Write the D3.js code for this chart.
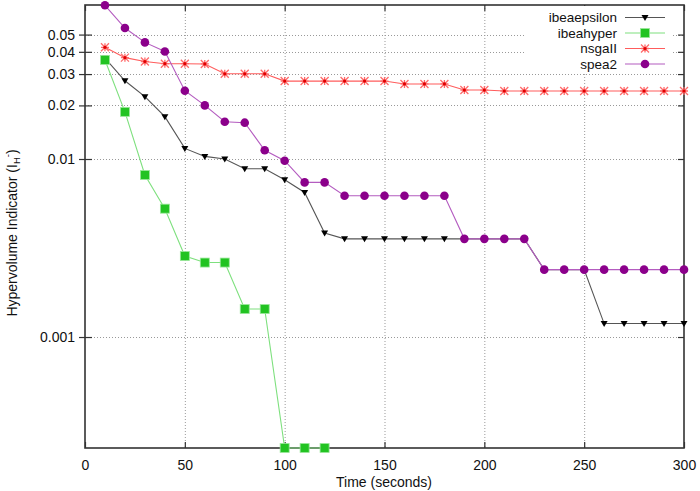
<!DOCTYPE html>
<html>
<head>
<meta charset="utf-8">
<script src="https://cdn.jsdelivr.net/npm/d3@7"></script>
<style>
  body { margin: 0; background: #fff; }
  svg { display: block; font-family: "Liberation Sans", Arial, sans-serif; }
</style>
</head>
<body>
<svg id="chart" width="700" height="491"></svg>
<script>
// ---- data ----
const times = [10,20,30,40,50,60,70,80,90,100,110,120,130,140,150,160,170,180,190,200,210,220,230,240,250,260,270,280,290,300];
const yFloor = 0.000238; // values at the bottom of the axis (clipped)
const ibeaepsilon = [0.0369,0.0275,0.0224,0.0173,0.01147,0.01034,0.0100,0.00882,0.00882,0.00765,0.00649,0.00384,
  0.00356,0.00356,0.00356,0.00356,0.00356,0.00356,0.00356,0.00356,0.00356,0.00356,0.00239,0.00239,0.00239,
  0.00119,0.00119,0.00119,0.00119,0.00119];
const ibeahyperTimes = [10,20,30,40,50,60,70,80,90,100,110,120];
const ibeahyper = [0.0360,0.0184,0.00813,0.00526,0.00285,0.00262,0.00262,0.001436,0.001436,yFloor,yFloor,yFloor];
const nsgaII = [0.0424,0.0371,0.0353,0.0343,0.0343,0.0342,0.0301,0.0301,0.0301,0.0274,0.0274,0.0274,0.0274,0.0274,0.0274,
  0.0264,0.0264,0.0264,0.0244,0.0244,0.0241,0.0241,0.0241,0.0241,0.0241,0.0241,0.0241,0.0241,0.0241,0.0241];
const spea2 = [0.0730,0.0544,0.0452,0.0402,0.0242,0.0200,0.0162,0.0160,0.0112,0.00978,0.00739,0.00739,0.00622,0.00622,
  0.00622,0.00622,0.00622,0.00622,0.00356,0.00356,0.00356,0.00356,0.00239,0.00239,0.00239,0.00239,0.00239,0.00239,0.00239,0.00239];
const xTicks = [0,50,100,150,200,250,300];
const yTicks = [0.001,0.01,0.02,0.03,0.04,0.05];
const yTickLabels = ["0.001","0.01","0.02","0.03","0.04","0.05"];

const seriesNames = ["ibeaepsilon","ibeahyper","nsgaII","spea2"];

// ---- layout ----
const L = 85, R = 684, T = 5, B = 448;
const FS = 14;
const svg = d3.select("#chart");
const x = d3.scaleLinear().domain([0,300]).range([L,R]);
const y = d3.scaleLog().domain([yFloor, 0.0733]).range([B,T]);

// grid
const grid = svg.append("g").attr("stroke","#999").attr("stroke-width",1).attr("stroke-dasharray","1,2");
xTicks.filter(t => t>0 && t<300).forEach(t => {
  grid.append("line").attr("x1",x(t)+0.5).attr("x2",x(t)+0.5).attr("y1",T).attr("y2",B);
});
yTicks.forEach(t => {
  grid.append("line").attr("x1",L).attr("x2",R).attr("y1",Math.round(y(t))+0.5).attr("y2",Math.round(y(t))+0.5);
});

// axes
const axisColor = "#333";
const xAxis = svg.append("g").attr("transform",`translate(0,${B})`)
  .call(d3.axisBottom(x).tickValues(xTicks).tickSize(-6).tickPadding(12).tickFormat(d3.format("d")));
const xTop = svg.append("g").attr("transform",`translate(0,${T})`)
  .call(d3.axisTop(x).tickValues(xTicks).tickSize(-6).tickFormat(""));
const yAxis = svg.append("g").attr("transform",`translate(${L},0)`)
  .call(d3.axisLeft(y).tickValues(yTicks).tickSize(6).tickPadding(4).tickFormat((d,i) => yTickLabels[i]));
yAxis.selectAll(".tick line").attr("x2",7).attr("x1",-6);
const yRight = svg.append("g").attr("transform",`translate(${R},0)`)
  .call(d3.axisRight(y).tickValues(yTicks).tickSize(-6).tickFormat(""));
[xAxis,xTop,yAxis,yRight].forEach(g => {
  g.select(".domain").remove();
  g.selectAll(".tick line").attr("stroke",axisColor).attr("stroke-width",1.2);
  g.selectAll("text").attr("fill","#111").attr("font-size",FS).attr("font-family","Liberation Sans, Arial, sans-serif");
});
// frame
svg.append("rect").attr("x",L).attr("y",T).attr("width",R-L).attr("height",B-T)
  .attr("fill","none").attr("stroke",axisColor).attr("stroke-width",1.6);

// legend background (opaque key box)
svg.append("rect").attr("x",525).attr("y",T+1).attr("width",148).attr("height",66).attr("fill","#fff");

// ---- series ----
const styles = {
  ibeaepsilon: {line:"#555", mark:"#000", shape:"tri"},
  ibeahyper:  {line:"#7ee07e", mark:"#22c322", shape:"sq"},
  nsgaII:     {line:"#ff5c5c", mark:"#ff2020", shape:"star"},
  spea2:      {line:"#b45cc0", mark:"#8b008b", shape:"circ"}
};
const seriesData = {
  ibeaepsilon: times.map((t,i)=>[t,ibeaepsilon[i]]),
  ibeahyper: ibeahyperTimes.map((t,i)=>[t,ibeahyper[i]]),
  nsgaII: times.map((t,i)=>[t,nsgaII[i]]),
  spea2: times.map((t,i)=>[t,spea2[i]])
};
const line = d3.line().x(d=>x(d[0])).y(d=>y(d[1]));

function drawMarker(g, cx, cy, st) {
  if (st.shape === "tri") {
    g.append("path").attr("d",`M${cx-3.5},${cy-2.5}L${cx+3.5},${cy-2.5}L${cx},${cy+3.5}Z`).attr("fill",st.mark);
  } else if (st.shape === "sq") {
    g.append("rect").attr("x",cx-4.5).attr("y",cy-4.5).attr("width",9).attr("height",9).attr("fill",st.mark)
      .attr("stroke","#9be89b").attr("stroke-width",0.8);
  } else if (st.shape === "star") {
    const s = 4;
    g.append("path").attr("d",`M${cx-s},${cy}L${cx+s},${cy}M${cx},${cy-s}L${cx},${cy+s}M${cx-s},${cy-s}L${cx+s},${cy+s}M${cx-s},${cy+s}L${cx+s},${cy-s}`)
      .attr("stroke","#ff6a6a").attr("stroke-width",1.3).attr("fill","none");
    g.append("circle").attr("cx",cx).attr("cy",cy).attr("r",1.6).attr("fill","#e00000");
  } else {
    g.append("circle").attr("cx",cx).attr("cy",cy).attr("r",4.3).attr("fill",st.mark);
  }
}

const plot = svg.append("g");
seriesNames.forEach(name => {
  const st = styles[name];
  const d = seriesData[name];
  const g = plot.append("g");
  g.append("path").datum(d).attr("d",line).attr("fill","none").attr("stroke",st.line).attr("stroke-width",1.1);
  d.forEach(p => drawMarker(g, x(p[0]), y(p[1]), st));
});

// legend
const legend = svg.append("g");
seriesNames.forEach((name,i) => {
  const st = styles[name];
  const ly = 17.5 + i*15.5;
  legend.append("text").attr("x",617).attr("y",ly).attr("dy","0.35em").attr("text-anchor","end")
    .attr("font-size",13.5).attr("fill","#111").text(name);
  legend.append("line").attr("x1",625).attr("x2",665).attr("y1",ly).attr("y2",ly)
    .attr("stroke",st.line).attr("stroke-width",1.1);
  drawMarker(legend, 645, ly, st);
});

// axis labels
svg.append("text").attr("x",384).attr("y",487).attr("text-anchor","middle").attr("font-size",FS).attr("fill","#111")
  .text("Time (seconds)");
const yl = svg.append("text").attr("transform","translate(17,233) rotate(-90)").attr("text-anchor","middle")
  .attr("font-size",FS).attr("fill","#111");
yl.append("tspan").text("Hypervolume Indicator (I");
yl.append("tspan").attr("font-size",9.5).attr("dy",3).text("H");
yl.append("tspan").attr("font-size",9.5).attr("dy",-9).text("-");
yl.append("tspan").attr("dy",6).text(")");
</script>
</body>
</html>
